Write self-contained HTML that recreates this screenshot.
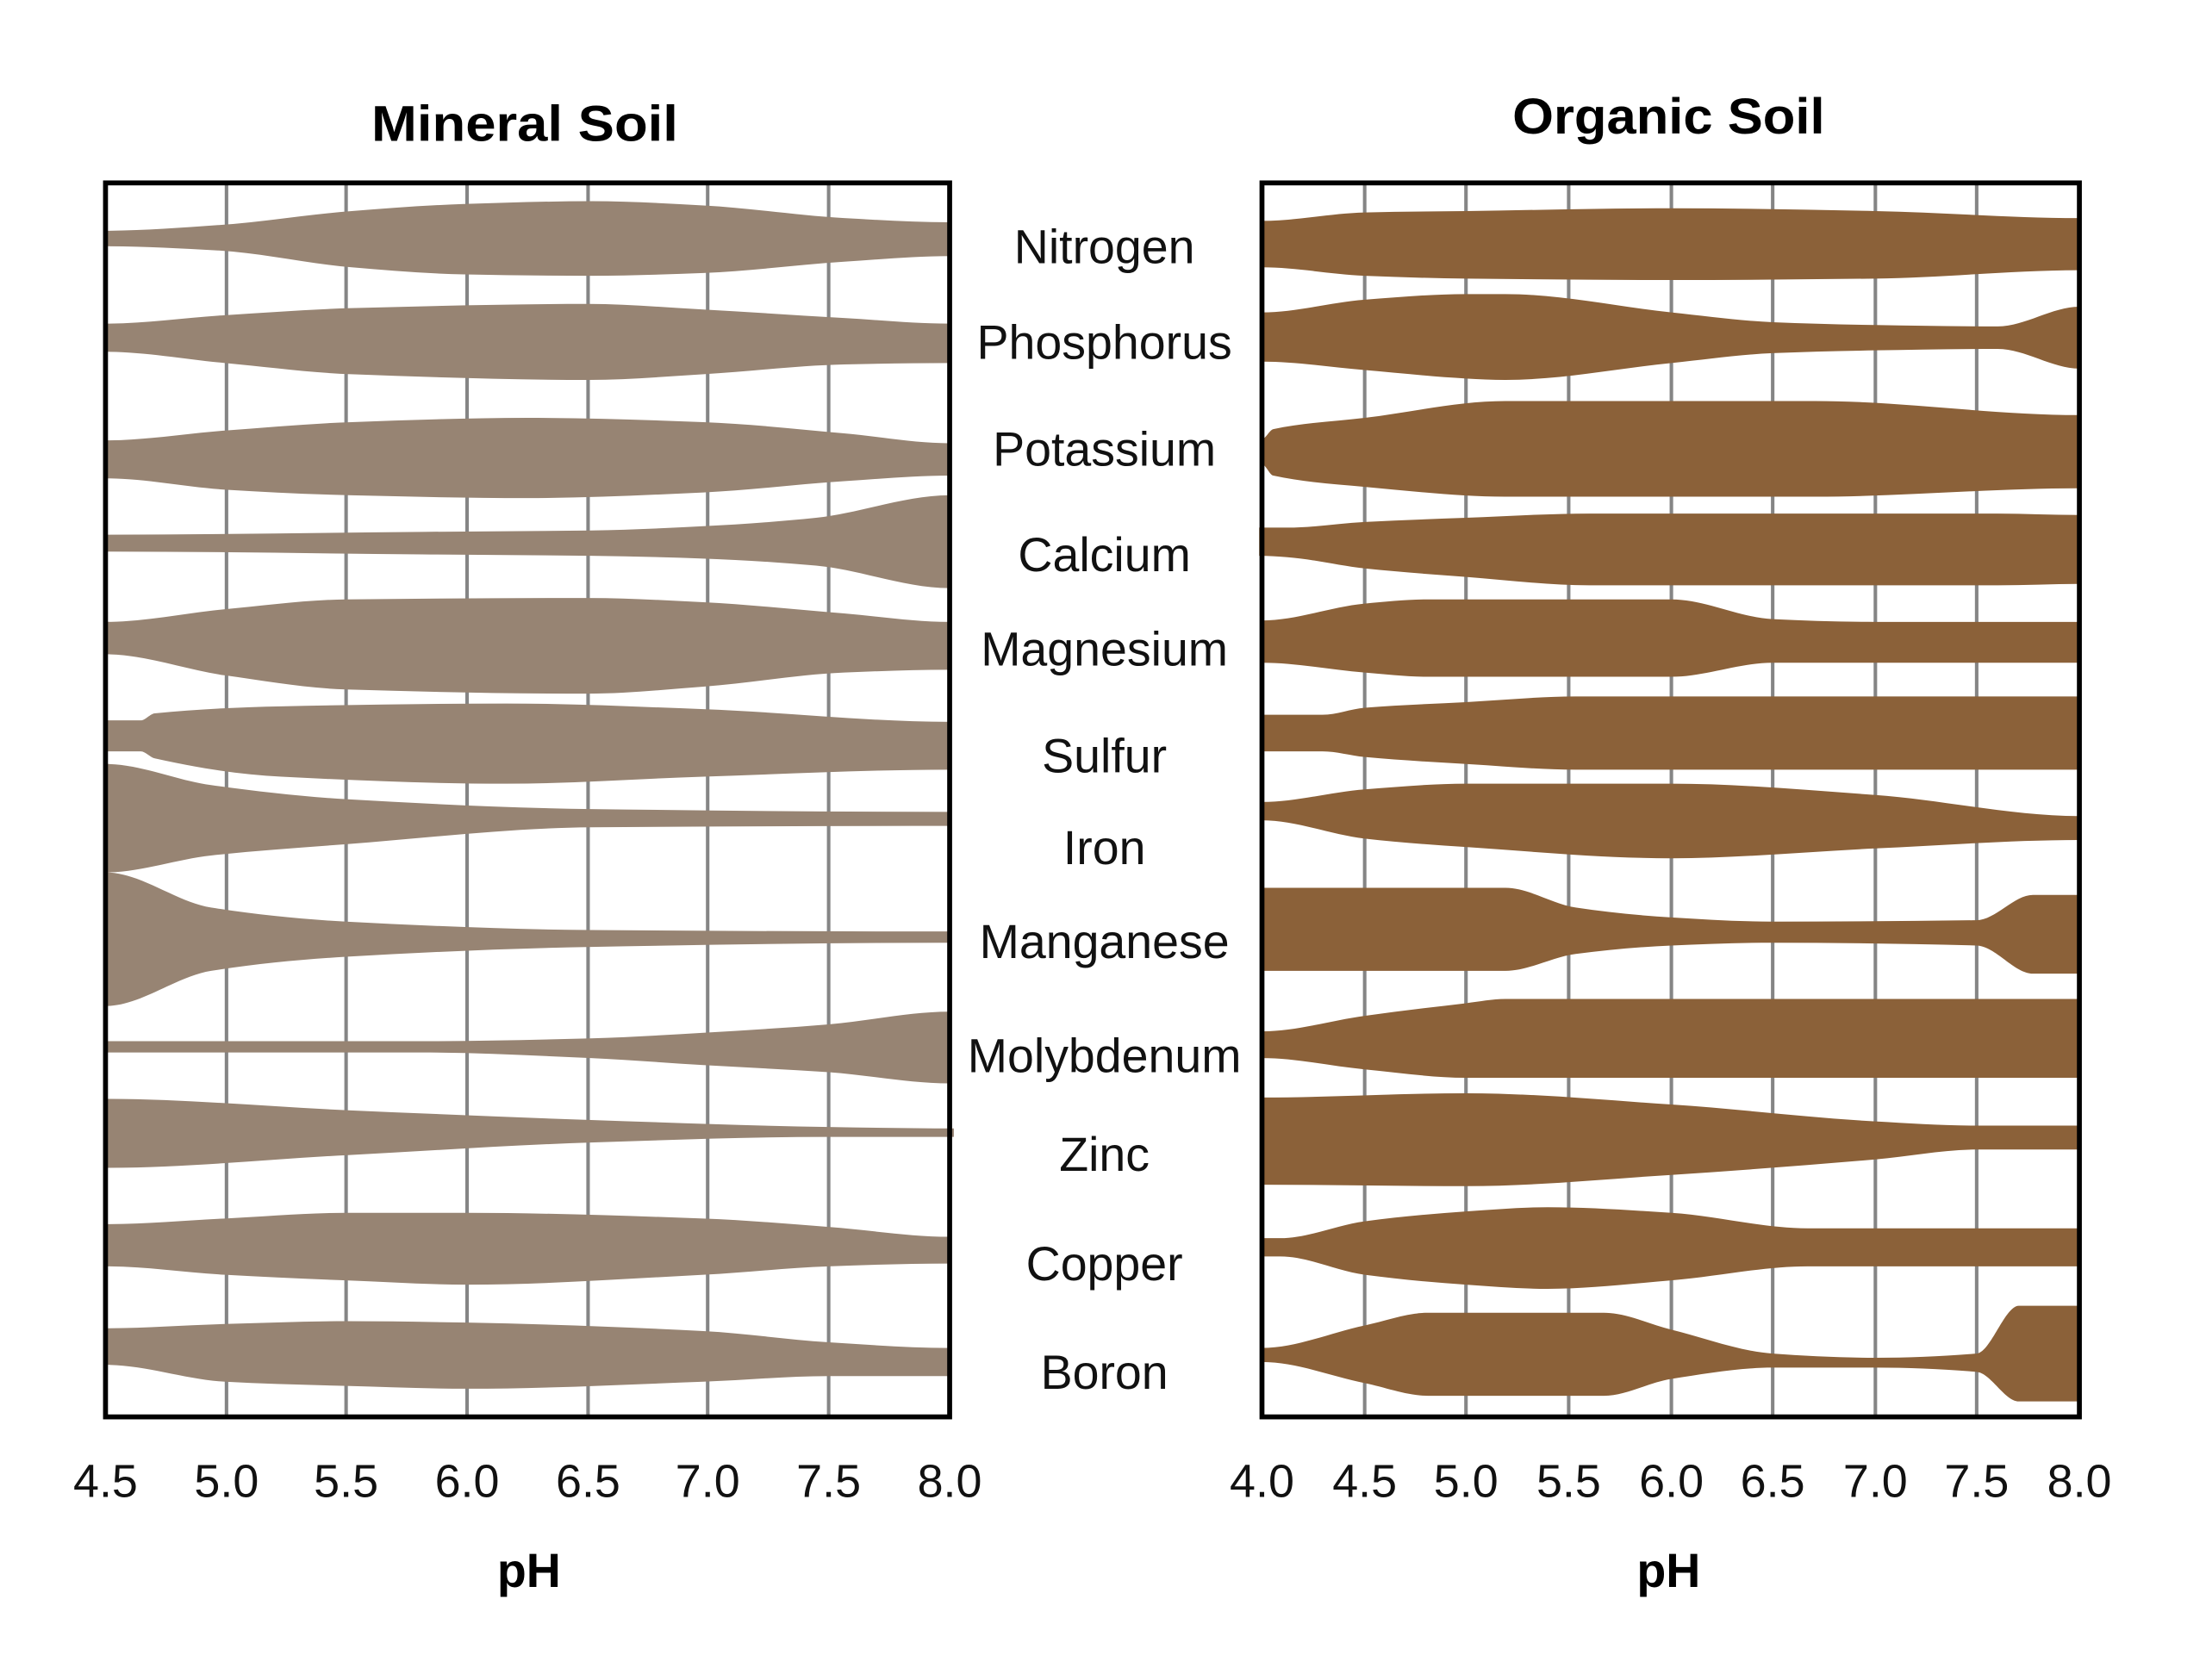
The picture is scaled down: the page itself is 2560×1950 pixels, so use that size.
<!DOCTYPE html>
<html><head><meta charset="utf-8"><style>
html,body{margin:0;padding:0;background:#fff;}
svg{display:block;}
text{font-family:"Liberation Sans",sans-serif;}
</style></head><body>
<svg id="s" width="2560" height="1950" viewBox="0 0 1568 1194" preserveAspectRatio="none" xmlns="http://www.w3.org/2000/svg">
<rect width="1568" height="1194" fill="#fff"/>
<g id="grid" stroke="#858585" stroke-width="2.5"></g>
<g id="shapes"></g>
<rect x="75" y="130" width="600" height="877" fill="none" stroke="#000" stroke-width="3.5"/>
<rect x="897" y="130" width="581" height="877" fill="none" stroke="#000" stroke-width="3.5"/>
<text x="373" y="100" font-size="36" font-weight="bold" text-anchor="middle" textLength="218" lengthAdjust="spacingAndGlyphs">Mineral Soil</text>
<text x="1186" y="95" font-size="36" font-weight="bold" text-anchor="middle" textLength="222" lengthAdjust="spacingAndGlyphs">Organic Soil</text>
<g font-size="34" text-anchor="middle" fill="#111">
<text x="785" y="187">Nitrogen</text>
<text x="785" y="255">Phosphorus</text>
<text x="785" y="331">Potassium</text>
<text x="785" y="406">Calcium</text>
<text x="785" y="473">Magnesium</text>
<text x="785" y="549">Sulfur</text>
<text x="785" y="614">Iron</text>
<text x="785" y="681">Manganese</text>
<text x="785" y="762">Molybdenum</text>
<text x="785" y="832">Zinc</text>
<text x="785" y="910">Copper</text>
<text x="785" y="987">Boron</text>
</g>
<g font-size="33" text-anchor="middle" fill="#111">
<text x="75" y="1064">4.5</text><text x="161" y="1064">5.0</text><text x="246" y="1064">5.5</text><text x="332" y="1064">6.0</text><text x="418" y="1064">6.5</text><text x="503" y="1064">7.0</text><text x="589" y="1064">7.5</text><text x="675" y="1064">8.0</text>
<text x="897" y="1064">4.0</text><text x="970" y="1064">4.5</text><text x="1042" y="1064">5.0</text><text x="1115" y="1064">5.5</text><text x="1188" y="1064">6.0</text><text x="1260" y="1064">6.5</text><text x="1333" y="1064">7.0</text><text x="1405" y="1064">7.5</text><text x="1478" y="1064">8.0</text>
</g>
<text x="376" y="1128" font-size="34" font-weight="bold" text-anchor="middle">pH</text>
<text x="1186" y="1128" font-size="34" font-weight="bold" text-anchor="middle">pH</text>
</svg>
<script>
var NS="http://www.w3.org/2000/svg";
var g=document.getElementById('grid');
[161,246,332,418,503,589,970,1042,1115,1188,1260,1333,1405].forEach(function(x){
 var l=document.createElementNS(NS,'line');l.setAttribute('x1',x);l.setAttribute('x2',x);l.setAttribute('y1',130);l.setAttribute('y2',1007);g.appendChild(l);});
var L=[
[[75,164,175],[155,160,178],[250,150,190],[330,145,195],[420,143,196],[500,146,194],[600,155,186],[675,158,182]],
[[75,230,250],[160,224,258],[250,219,266],[418,216,270],[500,220,266],[600,226,259],[675,230,258]],
[[75,313,340],[160,306,348],[250,300,352],[375,297,354],[500,300,350],[600,308,342],[675,315,338]],
[[75,380,392],[300,378,394],[420,377,395],[500,374,397],[580,368,402],[675,352,418]],
[[75,442,465],[160,433,480],[246,426,490],[418,425,493],[500,428,488],[600,436,478],[675,442,476]],
[[75,512,534],[100,512,534],[110,507,539],[200,502,552],[360,500,557],[500,504,552],[675,513,547]],
[[75,543,620],[150,558,608],[246,568,600],[420,575,588],[675,577,587]],
[[75,620,715],[150,645,690],[246,655,680],[420,661,673],[675,662,670]],
[[75,740,748],[300,740,748],[420,738,752],[500,734,757],[589,728,762],[675,719,770]],
[[75,781,830],[246,789,821],[420,796,812],[589,801,808],[678,802,808]],
[[75,870,900],[160,866,906],[246,862,910],[332,862,913],[500,866,906],[589,872,900],[675,879,898]],
[[75,944,970],[160,941,982],[246,939,985],[332,940,987],[500,946,982],[589,954,978],[675,958,978]]];
var R=[
[[897,157,190],[970,151,196],[1042,150,198],[1188,148,199],[1333,150,198],[1478,155,192]],
[[897,222,257],[970,213,263],[1042,209,269],[1070,209,270],[1188,222,258],[1260,229,251],[1333,231,249],[1420,232,248],[1478,218,262]],
[[897,312,330],[905,305,338],[970,297,346],[1070,285,353],[1290,285,353],[1478,295,347]],
[[895,375,395],[915,375,396],[970,371,404],[1042,368,410],[1130,365,416],[1420,365,416],[1478,366,415]],
[[897,441,471],[970,429,478],[1015,426,481],[1188,426,481],[1260,440,471],[1333,442,471],[1478,442,471]],
[[897,508,534],[940,508,534],[970,503,538],[1042,499,543],[1120,495,547],[1478,495,547]],
[[897,570,583],[970,561,596],[1042,557,602],[1188,557,610],[1333,565,603],[1478,580,597]],
[[897,631,690],[1070,631,690],[1120,645,678],[1188,652,672],[1260,655,670],[1405,654,672],[1445,636,692],[1478,636,692]],
[[897,733,752],[970,722,760],[1042,713,766],[1070,710,766],[1478,710,766]],
[[897,780,842],[1042,777,843],[1188,785,835],[1333,797,824],[1405,800,817],[1478,800,817]],
[[897,880,893],[910,880,893],[970,868,906],[1042,861,913],[1100,858,916],[1188,862,910],[1285,873,900],[1478,873,900]],
[[897,958,968],[970,942,983],[1015,933,992],[1140,933,992],[1188,945,980],[1260,962,972],[1333,965,972],[1405,962,975],[1435,928,996],[1478,928,996]]];
function slopes(p){var n=p.length,m=[];for(var i=0;i<n;i++){
 if(i==0||i==n-1){m.push(0);continue;}
 var d0=(p[i][1]-p[i-1][1])/(p[i][0]-p[i-1][0]),d1=(p[i+1][1]-p[i][1])/(p[i+1][0]-p[i][0]);
 if(d0*d1<=0)m.push(0);else m.push(2/(1/d0+1/d1));}return m;}
function seg(p){var m=slopes(p),d='';for(var i=0;i<p.length-1;i++){var a=p[i],b=p[i+1],h=(b[0]-a[0])/3;
 d+=' C'+(a[0]+h)+','+(a[1]+m[i]*h)+' '+(b[0]-h)+','+(b[1]-m[i+1]*h)+' '+b[0]+','+b[1];}return d;}
var sh=document.getElementById('shapes');
function draw(set,col){set.forEach(function(s){
 var top=s.map(function(a){return [a[0],a[1]];}),bot=s.map(function(a){return [a[0],a[2]];});
 var last=bot[bot.length-1];
 var d='M'+top[0]+seg(top)+' L'+last;
 var rb=bot.slice().reverse(),m=slopes(bot).reverse();
 for(var i=0;i<rb.length-1;i++){var a=rb[i],b=rb[i+1],h=(a[0]-b[0])/3;
  d+=' C'+(a[0]-h)+','+(a[1]-m[i]*h)+' '+(b[0]+h)+','+(b[1]+m[i+1]*h)+' '+b[0]+','+b[1];}
 d+='Z';
 var p=document.createElementNS(NS,'path');p.setAttribute('d',d);p.setAttribute('fill',col);sh.appendChild(p);});}
draw(L,'#978473');draw(R,'#8b6139');
</script>
</body></html>
